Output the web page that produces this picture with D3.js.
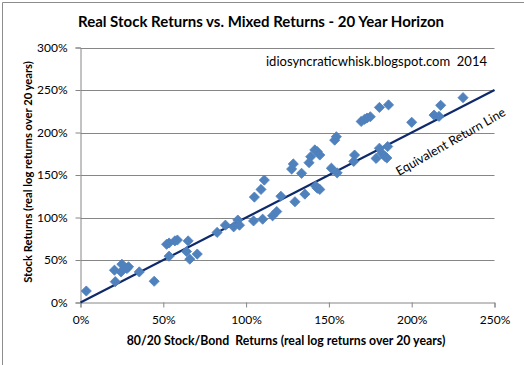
<!DOCTYPE html>
<html><head><meta charset="utf-8">
<script src="https://cdn.jsdelivr.net/npm/d3@7"></script>
<style>
html,body{margin:0;padding:0;background:#fff;}
svg{display:block;font-family:Lato,"Open Sans",sans-serif;}
text{white-space:pre;}
</style></head>
<body>
<svg id="c" width="524" height="365"></svg>
<script>
const title = "Real Stock Returns vs. Mixed Returns - 20 Year Horizon";
const xTitle = "80/20 Stock/Bond  Returns (real log returns over 20 years)";
const yTitle = "Stock Returns (real log returns over 20 years)";
const note = "idiosyncraticwhisk.blogspot.com  2014";
const lineLabel = "Equivalent Return Line";
const xTicks = [0, 0.5, 1.0, 1.5, 2.0, 2.5];
const yTicks = [0, 0.5, 1.0, 1.5, 2.0, 2.5, 3.0];
// mixed (80/20) returns, %
const mixed = [3.5,21,20.5,25,24.5,28,29,35.5,44.5,52,53.5,53.5,57,58.5,65,64,66,70.5,
  82.5,87.5,92.5,95,96,104.5,110,116,118.5,105,109,111,121,129.5,135.5,
  127.5,128.5,133.5,138,139,141.5,143,144.5,142,143,144.5,151.5,155,153.5,154.5,165.5,165,
  169.5,171.5,173,175,180.5,186,200,213.5,216.5,217.5,231,178.5,180.5,182,184,185.5,185];
// stock returns, %
const stock = [13.5,24.5,38,45,36,40,42,36,25,68.5,70,54.5,72.5,73.5,72.5,60,51,57,
  82.5,91,89,97,91,96,98,102,107,124,133,144,125,118.5,127.5,
  157,163,152,164.5,171.5,179.5,177.5,173.5,137,134.5,133,158,152.5,191,195,173.5,166,
  213,215.5,217,218.5,229.5,232.5,212,220.5,219,232,241,169.5,181.5,175.5,171.5,183.5,170];
const refLine = [0, 2.5];

const svg = d3.select("#c");
const x = d3.scaleLinear().domain([0, 2.5]).range([80.5, 494.5]);
const y = d3.scaleLinear().domain([0, 3.0]).range([302.5, 47.5]);
const fmt = d3.format(".0%");

// frame
svg.append("path").attr("d","M2.5,365V2.5H524").attr("fill","none").attr("stroke","#8c8c8c");

// gridlines
svg.append("g").selectAll("line").data(yTicks.slice(1)).join("line")
  .attr("x1", x(0)).attr("x2", x(2.5)).attr("y1", d=>Math.round(y(d))+0.5).attr("y2", d=>Math.round(y(d))+0.5)
  .attr("stroke","#868686");

// y axis
const ya = svg.append("g").attr("transform",`translate(${x(0)},0)`)
  .call(d3.axisLeft(y).tickValues(yTicks).tickFormat(fmt).tickSize(5).tickPadding(8));
// x axis
const xa = svg.append("g").attr("transform",`translate(0,${y(0)})`)
  .call(d3.axisBottom(x).tickValues(xTicks).tickFormat(fmt).tickSize(5).tickPadding(8));
[ya, xa].forEach(a=>{
  a.select(".domain").attr("stroke","#868686");
  a.selectAll(".tick line").attr("stroke","#868686");
  a.selectAll("text").attr("fill","#000").style("font-size","12px").style("font-family","Lato");
});

// reference line
svg.append("line").attr("x1",x(refLine[0])).attr("y1",y(refLine[0])).attr("x2",x(refLine[1])).attr("y2",y(refLine[1]))
  .attr("stroke","#0f2a6b").attr("stroke-width",2.2);

// points
const pts = mixed.map((m,i)=>[m/100, stock[i]/100]);
svg.append("g").selectAll("path").data(pts).join("path")
  .attr("d", d3.symbol().type(d3.symbolDiamond2).size(66))
  .attr("transform", d=>`translate(${x(d[0])},${y(d[1])})`)
  .attr("fill","#4f81bd").attr("stroke","#4f81bd").attr("stroke-width",0.8);

// line label
const ang = Math.atan2(y(refLine[1])-y(refLine[0]), x(refLine[1])-x(refLine[0]))*180/Math.PI - 2.5;
svg.append("text").attr("transform",`translate(399,176) rotate(${ang})`)
  .style("font-size","12.5px").attr("fill","#000").text(lineLabel);

// titles
svg.append("text").attr("x",261).attr("y",26.5).attr("text-anchor","middle")
  .style("font-size","15px").style("font-weight","bold").attr("fill","#000").text(title);
svg.append("text").attr("x",487).attr("y",66).attr("text-anchor","end")
  .style("font-size","13px").attr("fill","#000").text(note);
svg.append("text").attr("x",286).attr("y",345).attr("text-anchor","middle")
  .style("font-size","12.3px").style("font-weight","bold").attr("fill","#000").text(xTitle);
svg.append("text").attr("transform","translate(32,172) rotate(-90)").attr("text-anchor","middle")
  .style("font-size","11.2px").style("font-weight","bold").attr("fill","#000").text(yTitle);
</script>
</body></html>
